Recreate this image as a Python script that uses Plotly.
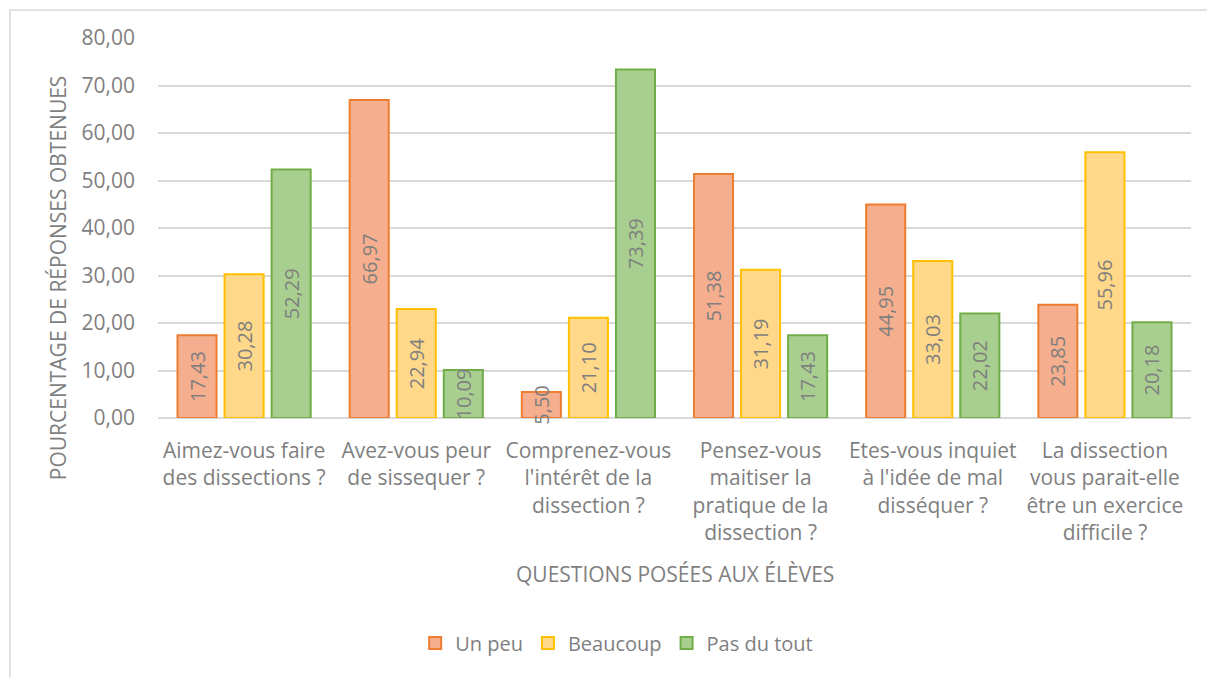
import plotly.graph_objects as go

questions = [
    "Aimez-vous faire<br>des dissections ?",
    "Avez-vous peur<br>de sissequer ?",
    "Comprenez-vous<br>l'intérêt de la<br>dissection ?",
    "Pensez-vous<br>maitiser la<br>pratique de la<br>dissection ?",
    "Etes-vous inquiet<br>à l'idée de mal<br>disséquer ?",
    "La dissection<br>vous parait-elle<br>être un exercice<br>difficile ?",
]
un_peu = [17.43, 66.97, 5.50, 51.38, 44.95, 23.85]
beaucoup = [30.28, 22.94, 21.10, 31.19, 33.03, 55.96]
pas_du_tout = [52.29, 10.09, 73.39, 17.43, 22.02, 20.18]

colors = {
    'text': '#7F7F7F',
    'grid': '#D9D9D9',
    'Un peu': ('#F5AE8E', '#ED7D31'),
    'Beaucoup': ('#FFD88A', '#FFC000'),
    'Pas du tout': ('#A9CF90', '#70AD47'),
}
FONT = "Open Sans"

fig = go.Figure()
for name, vals in [('Un peu', un_peu), ('Beaucoup', beaucoup), ('Pas du tout', pas_du_tout)]:
    fill, line = colors[name]
    fig.add_trace(go.Bar(
        x=questions, y=vals, name=name,
        marker=dict(color=fill, line=dict(color=line, width=2)),
        texttemplate='%{y:.2f}', textposition='inside', insidetextanchor='middle',
        textangle=-90, textfont=dict(color=colors['text'], size=20, family=FONT),
        cliponaxis=False,
    ))

# the page has an 8px body margin, so the figure is a bit smaller than the window
fig.update_layout(
    width=1207, height=669,
    margin=dict(l=150, r=24, t=30, b=259),
    paper_bgcolor='white', plot_bgcolor='white',
    font=dict(family=FONT, color=colors['text'], size=20),
    separators=', ',
    barmode='group', bargap=0.18, bargroupgap=0.17,
    uniformtext=dict(minsize=20, mode='show'),
    showlegend=True,
    legend=dict(orientation='h', x=0.444, xanchor='center', y=-0.592, yanchor='middle',
                font=dict(size=20), itemwidth=30, traceorder='normal'),
    xaxis=dict(showgrid=False, showline=False, ticks='', tickfont=dict(size=21),
               ticklabelstandoff=18),
    yaxis=dict(range=[0, 80], dtick=10, tickformat='.2f', showgrid=True,
               gridcolor=colors['grid'], gridwidth=1.5, zeroline=True,
               zerolinecolor=colors['grid'], zerolinewidth=1.5, showline=False,
               tickfont=dict(size=21), ticklabelstandoff=22),
    annotations=[
        dict(text="POURCENTAGE DE RÉPONSES OBTENUES", xref='paper', yref='paper',
             x=-0.0968, y=0.368, xanchor='center', yanchor='middle', textangle=-90,
             showarrow=False, font=dict(size=21)),
        dict(text="QUESTIONS POSÉES AUX ÉLÈVES", xref='paper', yref='paper',
             x=0.5, y=-0.41, xanchor='center', yanchor='middle', showarrow=False,
             font=dict(size=21)),
    ],
    shapes=[dict(type='rect', xref='paper', yref='paper', x0=-0.1433, x1=1.05,
                 y0=-0.75, y1=1.074, line=dict(color=colors['grid'], width=1.5),
                 layer='below')],
)

fig.write_html("out.html")
